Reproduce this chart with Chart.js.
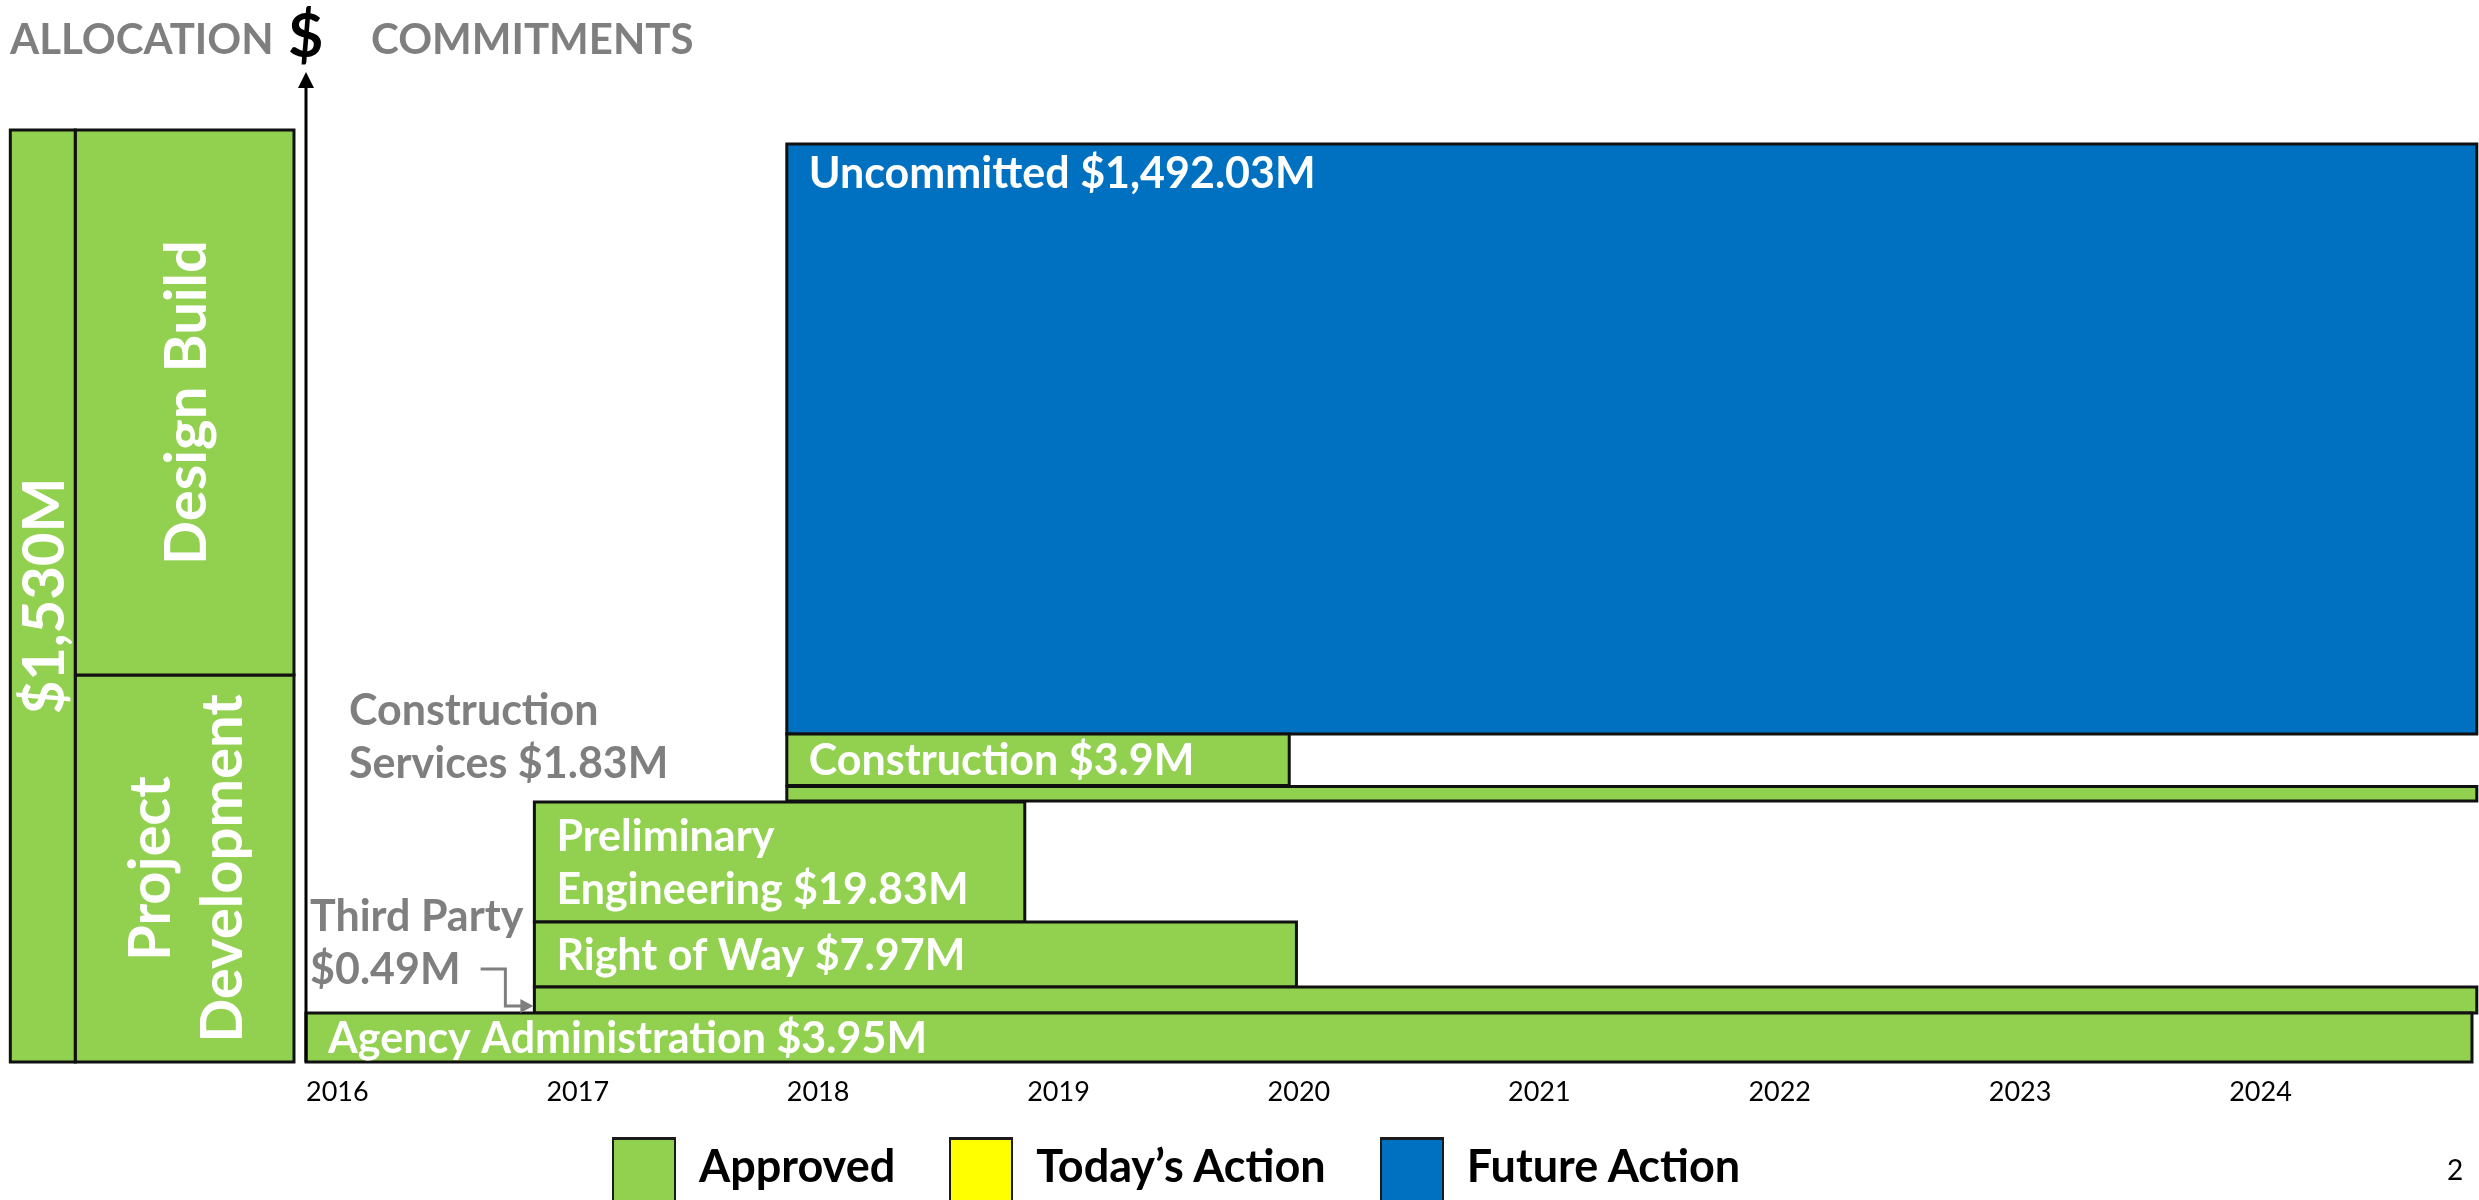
<!DOCTYPE html>
<html>
<head>
<meta charset="utf-8">
<script src="https://cdn.jsdelivr.net/npm/chart.js@4.4.1/dist/chart.umd.min.js"></script>
<style>
  html, body { margin: 0; padding: 0; background: #fff; }
  body { width: 2479px; height: 1200px; position: relative; overflow: hidden; font-family: Lato, "Open Sans", sans-serif; }
  #wrap { position: absolute; left: 0; top: 0; width: 2479px; height: 1200px; }
  .head { position: absolute; top: 17px; font-weight: 700; font-size: 42px; line-height: 1; color: #7f7f7f; }
  .dollar { position: absolute; left: 288px; top: 3px; font-weight: 700; font-size: 61px; line-height: 1; color: #000; }
  #legend { position: absolute; left: 612px; top: 1137px; display: flex; gap: 54px; }
  .item { display: flex; align-items: flex-start; }
  .sw { width: 60px; height: 63px; border: 2px solid #1b1b1b; border-top-width: 3px; border-bottom: none; }
  .lab { margin-left: 23px; margin-top: 6px; font-weight: 700; font-size: 45px; line-height: 1; color: #000; }
  #page { position: absolute; left: 2447px; top: 1155px; font-size: 28px; line-height: 1; color: #000; }
</style>
</head>
<body>
<div id="wrap"><canvas id="chart"></canvas></div>
<div class="head" style="left:10px">ALLOCATION</div>
<div class="dollar">$</div>
<div class="head" style="left:371px">COMMITMENTS</div>
<div id="legend"></div>
<div id="page">2</div>
<script>
// x axis years
const years = [2016, 2017, 2018, 2019, 2020, 2021, 2022, 2023, 2024];

// commitments (bottom to top)
const tasks = ['Agency Administration', 'Third Party\n', 'Right of Way', 'Preliminary\nEngineering',
               'Construction\nServices', 'Construction', 'Uncommitted'];
const amounts = [3.95, 0.49, 7.97, 19.83, 1.83, 3.9, 1492.03];
const status = ['Approved', 'Approved', 'Approved', 'Approved', 'Approved', 'Approved', 'Future Action'];
const startYear = [2016.0, 2016.95, 2016.95, 2016.95, 2018.0, 2018.0, 2018.0];
const endYear = [2025.01, 2025.03, 2020.12, 2018.99, 2025.03, 2020.09, 2025.03];
const levelLow = [0, 4.9, 7.5, 14.0, 26.1, 27.65, 32.8];
const levelHigh = [4.9, 7.5, 14.0, 26.0, 27.55, 32.8, 91.8];

// allocation column on the left
const allocTotal = 1530;
const allocParts = ['Design Build', 'Project Development'];
const allocCols = [2014.77, 2015.04, 2015.95];
const allocSplit = 38.7;
const allocTop = 93.2;

// legend
const legendNames = ['Approved', 'Today’s Action', 'Future Action'];
const legendColors = ['#92D050', '#FFFF00', '#0070C0'];

const colorOf = s => legendColors[legendNames.indexOf(s)];
const fmt = v => v.toLocaleString('en-US', {maximumFractionDigits: 2});

function rect(x0, x1, y0, y1) {
  return [{x: x0, y: y0}, {x: x1, y: y0}, {x: x1, y: y1}, {x: x0, y: y1}, {x: x0, y: y0}];
}

function box(data, color) {
  return {
    data: data,
    showLine: true,
    fill: 'shape',
    backgroundColor: color,
    borderColor: '#111',
    borderWidth: 3,
    borderJoinStyle: 'miter',
    borderCapStyle: 'square',
    pointRadius: 0,
    pointHoverRadius: 0,
    tension: 0,
    clip: false
  };
}

const datasets = [];
datasets.push(box(rect(allocCols[0], allocCols[1], 0, allocTop), legendColors[0]));
datasets.push(box(rect(allocCols[1], allocCols[2], allocSplit, allocTop), legendColors[0]));
datasets.push(box(rect(allocCols[1], allocCols[2], 0, allocSplit), legendColors[0]));
tasks.forEach((t, i) => {
  datasets.push(box(rect(startYear[i], endYear[i], levelLow[i], levelHigh[i]), colorOf(status[i])));
});

// labels drawn with the scales
const sideNote = {'Third Party': {dx: 4, arrow: true}, 'Construction Services': {dx: 43, arrow: false}};

const labelPlugin = {
  id: 'labels',
  afterDatasetsDraw(chart) {
    const ctx = chart.ctx;
    const xs = chart.scales.x, ys = chart.scales.y;
    const area = chart.chartArea;
    ctx.save();

    // vertical $ axis with arrow
    const ax = xs.getPixelForValue(years[0]);
    ctx.strokeStyle = '#000';
    ctx.fillStyle = '#000';
    ctx.lineWidth = 3;
    ctx.beginPath();
    ctx.moveTo(ax, ys.getPixelForValue(0));
    ctx.lineTo(ax, area.top + 12);
    ctx.stroke();
    ctx.beginPath();
    ctx.moveTo(ax, area.top);
    ctx.lineTo(ax - 8, area.top + 16);
    ctx.lineTo(ax + 8, area.top + 16);
    ctx.closePath();
    ctx.fill();

    // allocation column, rotated text
    ctx.fillStyle = '#fff';
    ctx.font = 'bold 58px Lato';
    ctx.textAlign = 'center';
    ctx.textBaseline = 'middle';
    const cells = [
      [allocCols[0], allocCols[1], 0, allocTop, '$' + fmt(allocTotal) + 'M'],
      [allocCols[1], allocCols[2], allocSplit, allocTop, allocParts[0]],
      [allocCols[1], allocCols[2], 0, allocSplit, allocParts[1]]
    ];
    cells.forEach(([x0, x1, y0, y1, text]) => {
      const cx = (xs.getPixelForValue(x0) + xs.getPixelForValue(x1)) / 2;
      const cy = (ys.getPixelForValue(y0) + ys.getPixelForValue(y1)) / 2;
      const room = ys.getPixelForValue(y0) - ys.getPixelForValue(y1) - 30;
      const lines = ctx.measureText(text).width > room ? text.split(' ') : [text];
      ctx.save();
      ctx.translate(cx, cy);
      ctx.rotate(-Math.PI / 2);
      lines.forEach((l, i) => ctx.fillText(l, 0, (i - (lines.length - 1) / 2) * 72 + 3));
      ctx.restore();
    });

    // commitment labels
    ctx.font = 'bold 43px Lato';
    ctx.textAlign = 'left';
    ctx.textBaseline = 'alphabetic';
    tasks.forEach((t, i) => {
      const left = xs.getPixelForValue(startYear[i]);
      const right = xs.getPixelForValue(endYear[i]);
      const top = ys.getPixelForValue(levelHigh[i]);
      const bottom = ys.getPixelForValue(levelLow[i]);
      const mid = (top + bottom) / 2;
      const lines = (t + ' $' + fmt(amounts[i]) + 'M').split('\n').map(s => s.trim());
      const name = t.replace('\n', ' ').trim();

      if (bottom - top < 30) {
        const note = sideNote[name];
        const x0 = ax + note.dx;
        ctx.fillStyle = '#7f7f7f';
        lines.forEach((l, k) => ctx.fillText(l, x0, mid - 16 - (lines.length - 1 - k) * 53));
        if (note.arrow) {
          const last = lines[lines.length - 1];
          const sx = x0 + ctx.measureText(last).width + 20;
          const sy = mid - 16 - 15;
          const ex = left - 29;
          const ey = mid + 6;
          ctx.strokeStyle = '#7f7f7f';
          ctx.lineWidth = 3;
          ctx.beginPath();
          ctx.moveTo(sx, sy);
          ctx.lineTo(ex, sy);
          ctx.lineTo(ex, ey);
          ctx.lineTo(left - 12, ey);
          ctx.stroke();
          ctx.beginPath();
          ctx.moveTo(left - 1, ey);
          ctx.lineTo(left - 14, ey - 7);
          ctx.lineTo(left - 14, ey + 7);
          ctx.closePath();
          ctx.fillStyle = '#7f7f7f';
          ctx.fill();
        }
      } else {
        ctx.save();
        ctx.beginPath();
        ctx.rect(left, top, right - left, bottom - top);
        ctx.clip();
        ctx.fillStyle = '#fff';
        if (bottom - top > 200) {
          ctx.fillText(lines[0], left + 22, top + 44);
        } else {
          lines.forEach((l, k) => ctx.fillText(l, left + 22, mid + (k - (lines.length - 1) / 2) * 53 + 15));
        }
        ctx.restore();
      }
    });
    ctx.restore();
  }
};

Chart.defaults.font.family = 'Lato, "Open Sans", sans-serif';

new Chart(document.getElementById('chart'), {
  type: 'scatter',
  data: {datasets: datasets},
  options: {
    responsive: true,
    maintainAspectRatio: false,
    animation: false,
    layout: {padding: {left: 3.1, right: 2.2, top: 72, bottom: 0}},
    plugins: {legend: {display: false}, tooltip: {enabled: false}},
    scales: {
      x: {
        type: 'linear',
        min: 2014.74,
        max: 2025.03,
        grid: {display: false, drawTicks: false},
        border: {display: false},
        afterBuildTicks: s => { s.ticks = years.map(v => ({value: v})); },
        afterFit: s => { s.height = 138; },
        ticks: {
          align: 'start',
          autoSkip: false,
          maxRotation: 0,
          padding: 14,
          color: '#000',
          font: {size: 27},
          callback: v => String(v)
        }
      },
      y: {type: 'linear', min: 0, max: 99, display: false}
    }
  },
  plugins: [labelPlugin]
});

// legend
const legend = document.getElementById('legend');
legendNames.forEach((n, i) => {
  const item = document.createElement('div');
  item.className = 'item';
  item.innerHTML = '<div class="sw" style="background:' + legendColors[i] + '"></div><div class="lab">' + n + '</div>';
  legend.appendChild(item);
});
</script>
</body>
</html>
